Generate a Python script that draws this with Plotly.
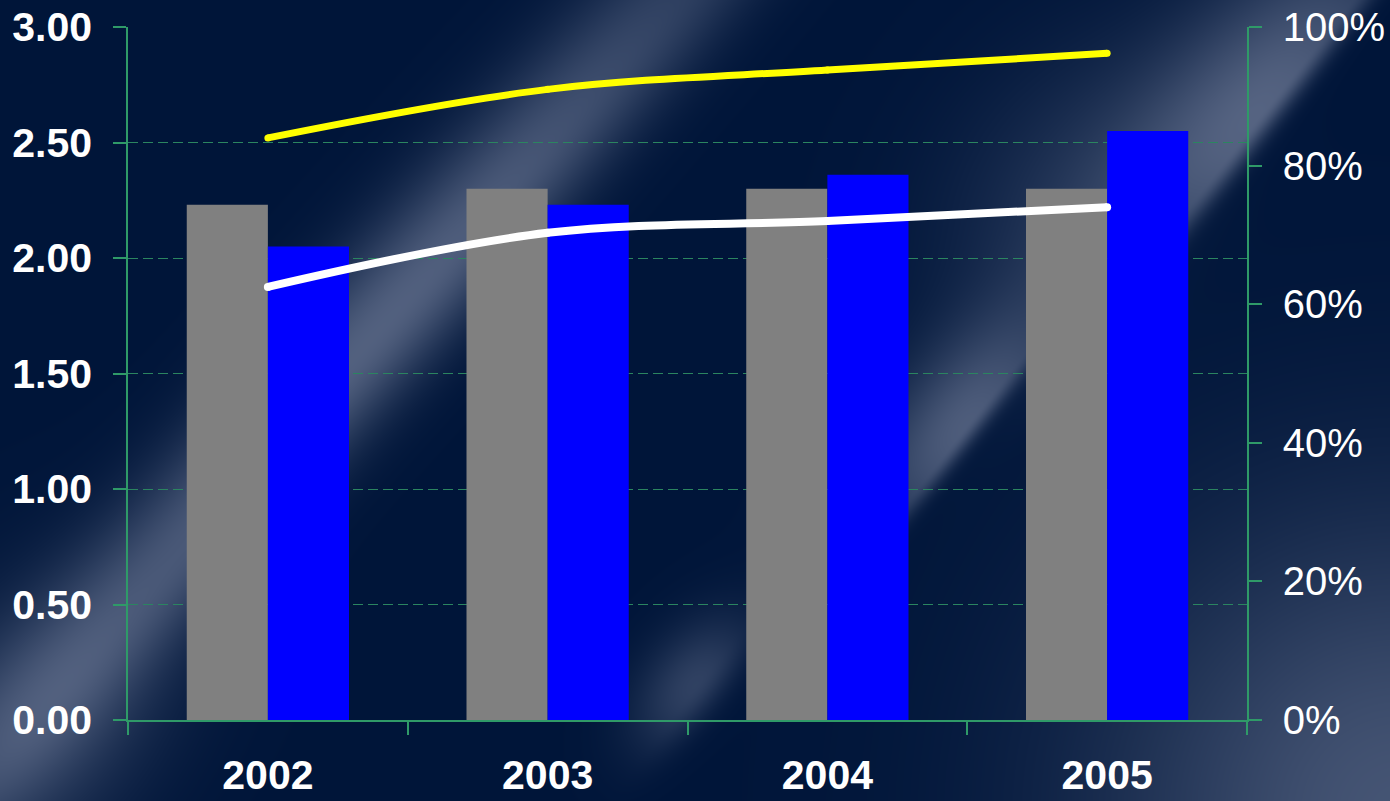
import base64
import struct
import zlib

import numpy as np
import plotly.graph_objects as go

# ---- chart values -------------------------------------------------------
years = ["2002", "2003", "2004", "2005"]
grey_values = [2.23, 2.30, 2.30, 2.30]      # left axis
blue_values = [2.05, 2.23, 2.36, 2.55]      # left axis
yellow_share = [0.840, 0.910, 0.938, 0.962]  # right axis (share)
white_share = [0.625, 0.703, 0.720, 0.740]   # right axis (share)

# ---- page geometry -----------------------------------------------------
W, H = 1390, 801
M_L, M_R, M_T, M_B = 128, 143, 27, 81
PW, PH = W - M_L - M_R, H - M_T - M_B

NAVY = np.array([0, 21, 57], dtype=float)
GLOW = np.array([86, 100, 130], dtype=float)
GREEN = "#2f9a68"
GRID = "#2b8560"


def beam(X, Y, cx, cy, tx, ty, s_sig, d_minus, d_plus, amp):
    """Soft elongated light streak; sharper edge on the lower-right side."""
    n = np.hypot(tx, ty)
    tx, ty = tx / n, ty / n
    nx, ny = -ty, tx
    s = (X - cx) * tx + (Y - cy) * ty
    d = (X - cx) * nx + (Y - cy) * ny
    sd = np.where(d < 0, d_minus, d_plus)
    return amp * np.exp(-0.5 * (s / s_sig) ** 2 - 0.5 * (d / sd) ** 2)


def background_png():
    Y, X = np.mgrid[0:H, 0:W].astype(float)
    glow = np.zeros((H, W))
    glow += beam(X, Y, 365, 345, 0.669, -0.743, 440, 50, 40, 0.95)
    glow += beam(X, Y, 40, 740, 0.669, -0.743, 120, 90, 70, 0.45)
    glow += beam(X, Y, 1262, 112, 0.62, -0.78, 150, 70, 12, 0.95)
    glow += beam(X, Y, 1080, 190, 0.62, -0.78, 120, 90, 60, 0.30)
    glow += beam(X, Y, 962, 430, 0.62, -0.78, 95, 50, 10, 0.85)
    glow += beam(X, Y, 695, 685, 0.62, -0.78, 55, 35, 18, 0.55)
    glow += 0.8 * np.exp(-((X - 1400) ** 2 + (Y - 815) ** 2) / (2 * 210 ** 2))
    glow = np.clip(glow, 0, 1)[..., None]
    img = NAVY + glow * (GLOW - NAVY)
    arr = np.clip(np.round(img), 0, 255).astype(np.int16)

    sub = arr.copy()
    sub[:, 1:, :] = arr[:, 1:, :] - arr[:, :-1, :]
    sub = (sub % 256).astype(np.uint8).reshape(H, -1)
    rows = np.concatenate([np.ones((H, 1), np.uint8), sub], axis=1)

    def chunk(tag, payload):
        return (struct.pack(">I", len(payload)) + tag + payload
                + struct.pack(">I", zlib.crc32(tag + payload) & 0xFFFFFFFF))

    png = (b"\x89PNG\r\n\x1a\n"
           + chunk(b"IHDR", struct.pack(">IIBBBBB", W, H, 8, 2, 0, 0, 0))
           + chunk(b"IDAT", zlib.compress(rows.tobytes(), 9))
           + chunk(b"IEND", b""))
    return "data:image/png;base64," + base64.b64encode(png).decode()


fig = go.Figure()

fig.add_trace(go.Bar(x=years, y=grey_values, marker=dict(color="#808080", line=dict(width=0)),
                     name="grey", yaxis="y"))
fig.add_trace(go.Bar(x=years, y=blue_values, marker=dict(color="#0000ff", line=dict(width=0)),
                     name="blue", yaxis="y"))

fig.add_trace(go.Scatter(x=years, y=yellow_share, yaxis="y2", mode="lines+markers",
                         line=dict(color="#ffff00", width=7, shape="spline", smoothing=1),
                         marker=dict(color="#ffff00", size=7), name="yellow"))
fig.add_trace(go.Scatter(x=years, y=white_share, yaxis="y2", mode="lines+markers",
                         line=dict(color="#ffffff", width=8, shape="spline", smoothing=1),
                         marker=dict(color="#ffffff", size=8), name="white"))

bold = dict(family="Liberation Sans, Arial, sans-serif", size=41, color="white", weight="bold")
plain = dict(family="Liberation Sans, Arial, sans-serif", size=40, color="white")

fig.update_layout(
    width=W, height=H,
    margin=dict(l=M_L, r=M_R, t=M_T, b=M_B, autoexpand=False),
    paper_bgcolor="rgb(0,21,57)",
    plot_bgcolor="rgba(0,0,0,0)",
    showlegend=False,
    barmode="group",
    bargap=0.42,
    bargroupgap=0,
    images=[dict(source=background_png(), xref="paper", yref="paper",
                 x=-M_L / PW, y=1 + M_T / PH, sizex=W / PW, sizey=H / PH,
                 xanchor="left", yanchor="top", sizing="stretch", layer="below")],
    xaxis=dict(type="category", range=[-0.5, 3.5], showgrid=False, zeroline=False,
               showline=True, linecolor=GREEN, linewidth=1.5,
               ticks="outside", tickson="boundaries", ticklen=13, tickcolor=GREEN, tickwidth=1.5,
               tickfont=bold, ticklabelstandoff=18),
    yaxis=dict(range=[0, 3], dtick=0.5, tickformat=".2f", zeroline=False,
               showgrid=True, gridcolor=GRID, griddash="10px,5px", gridwidth=1,
               showline=True, linecolor=GREEN, linewidth=1.5,
               ticks="outside", ticklen=13, tickcolor=GREEN, tickwidth=1.5,
               tickfont=bold, ticklabelstandoff=13),
    yaxis2=dict(overlaying="y", side="right", anchor="x", range=[0, 1], dtick=0.2,
                tickformat=".0%", showgrid=False, zeroline=False,
                showline=True, linecolor=GREEN, linewidth=1.5,
                ticks="outside", ticklen=13, tickcolor=GREEN, tickwidth=1.5,
                tickfont=plain, ticklabelstandoff=13),
    yaxis3=dict(overlaying="y", side="right", anchor="x", range=[0, 1], dtick=0.2,
                showticklabels=False, showgrid=False, zeroline=False, showline=False,
                ticks="inside", ticklen=13, tickcolor=GREEN, tickwidth=1.5),
)

fig.write_html("out.html")
